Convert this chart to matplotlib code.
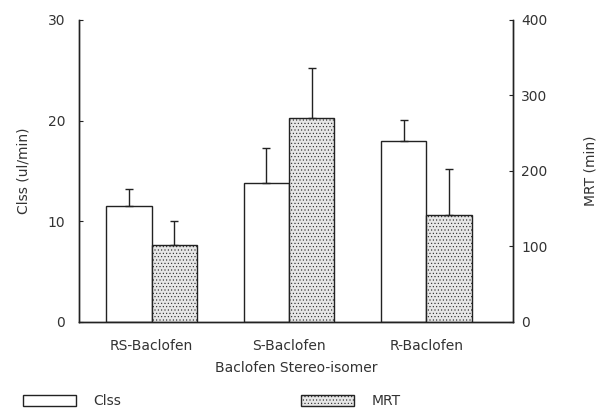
#import the necessary libraries
import matplotlib
matplotlib.use("Agg")
import matplotlib.pyplot as plt
import numpy as np
from matplotlib.patches import Patch

plt.rcParams['font.family'] = ['DejaVu Sans']
plt.rcParams['hatch.linewidth'] = 0.4
plt.rcParams['hatch.color'] = '#555555'

# data
isomers = ['RS-Baclofen', 'S-Baclofen', 'R-Baclofen']
clss_mean = [11.5, 13.8, 18.0]      # ul/min
clss_err = [1.7, 3.5, 2.1]
mrt_mean = [102, 270, 142]          # min
mrt_err = [32, 67, 60]

fig = plt.figure(figsize=(5.97, 4.08), dpi=100)
ax = fig.add_axes([0.1323, 0.2108, 0.7267, 0.7402])
ax2 = ax.twinx()

x = np.arange(len(isomers))
w = 0.33
ink = '#222222'
txt = '#333333'

ax.bar(x - w/2, clss_mean, w, color='white', edgecolor=ink, linewidth=1.0,
       yerr=[np.zeros(3), clss_err], capsize=3,
       error_kw=dict(ecolor=ink, elinewidth=1.0, capthick=1.0))
ax2.bar(x + w/2, mrt_mean, w, color='#e6e6e6', edgecolor=ink, linewidth=1.0,
        hatch='.....', yerr=[np.zeros(3), mrt_err], capsize=3,
        error_kw=dict(ecolor=ink, elinewidth=1.0, capthick=1.0))

ax.set_xlim(-0.53, 2.63)
ax.set_ylim(0, 30)
ax2.set_ylim(0, 400)
ax.set_yticks([0, 10, 20, 30])
ax2.set_yticks([0, 100, 200, 300, 400])
ax.set_xticks(x)
ax.set_xticklabels(isomers)
fs = 10
ax.tick_params(axis='x', length=0, pad=12, labelsize=fs, labelcolor=txt)
ax.tick_params(axis='y', direction='in', length=3, pad=10, labelsize=fs, labelcolor=txt, color=ink)
ax2.tick_params(axis='y', direction='in', length=3, pad=6, labelsize=fs, labelcolor=txt, color=ink)

for a in (ax, ax2):
    a.spines['top'].set_visible(False)
    for s in a.spines.values():
        s.set_color(ink)
        s.set_linewidth(1.0)

ax.set_ylabel('Clss (ul/min)', fontsize=fs, color=txt, labelpad=12)
ax2.set_ylabel('MRT (min)', fontsize=fs, color=txt, labelpad=26)
ax.set_xlabel('Baclofen Stereo-isomer', fontsize=fs, color=txt, labelpad=6)

handles = [Patch(facecolor='white', edgecolor=ink, linewidth=1.0),
           Patch(facecolor='#e6e6e6', edgecolor=ink, linewidth=1.0, hatch='.....')]
fig.legend(handles, ['Clss', 'MRT'], loc='lower left', bbox_to_anchor=(0.022, -0.025),
           ncol=2, frameon=False, fontsize=fs, handlelength=3.8, handleheight=0.9,
           columnspacing=12.9, borderpad=0.2, handletextpad=1.3, labelcolor=txt)

plt.savefig('out.png', dpi=100)
